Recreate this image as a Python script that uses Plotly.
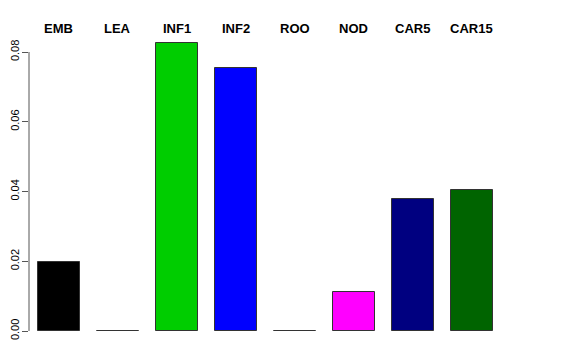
import plotly.graph_objects as go

categories = ["EMB", "LEA", "INF1", "INF2", "ROO", "NOD", "CAR5", "CAR15"]
values = [0.0198, 0.0, 0.0826, 0.0755, 0.0, 0.0113, 0.0378, 0.0404]
colors = ["#000000", "#FF0000", "#00CD00", "#0000FF", "#00FFFF", "#FF00FF", "#000080", "#006400"]
tick_vals = [0.00, 0.02, 0.04, 0.06, 0.08]
tick_text = ["0.00", "0.02", "0.04", "0.06", "0.08"]

xs = list(range(len(categories)))

fig = go.Figure()
fig.add_trace(go.Bar(
    x=xs, y=values, width=0.712,
    marker=dict(color=colors, line=dict(color="#333333", width=1)),
    showlegend=False, hoverinfo="skip",
))

for i, c in enumerate(categories):
    fig.add_annotation(x=i, y=1, xref="x", yref="paper", yshift=12,
                       text="<b>" + c + "</b>", showarrow=False,
                       yanchor="middle", xanchor="center",
                       font=dict(family="Liberation Sans, Arial, sans-serif", size=13, color="#000000"))

fig.add_shape(type="line", xref="paper", yref="y", x0=0, x1=0, y0=0, y1=0.08,
              line=dict(color="#555555", width=1))

fig.update_layout(
    width=576, height=360,
    margin=dict(l=21, r=24, t=32, b=37, autoexpand=False),
    paper_bgcolor="white", plot_bgcolor="white",
    font=dict(family="Liberation Sans, Arial, sans-serif", size=12, color="#000000"),
    xaxis=dict(range=[-0.508, 8.492], showticklabels=False, showgrid=False,
               zeroline=False, showline=False, ticks="", automargin=False),
    yaxis=dict(range=[0, 0.08344], tickvals=tick_vals, ticktext=tick_text,
               tickangle=-90, ticks="outside", ticklen=6, tickcolor="#555555",
               ticklabelstandoff=-1,
               showgrid=False, zeroline=False, showline=False, automargin=False,
               tickfont=dict(size=11, color="#000000")),
    bargap=0,
)

fig.write_html("out.html")
